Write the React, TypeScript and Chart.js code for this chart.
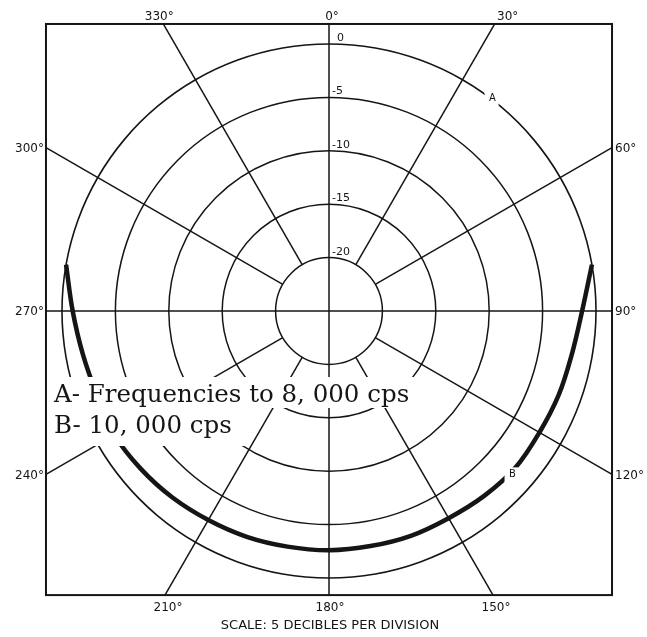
import React, { useEffect, useRef } from "react";
import { Chart, registerables } from "chart.js";

Chart.register(...registerables);

// Bearings (degrees clockwise from 0° at the top) at which the curves are sampled
const bearings = [
  0, 10, 20, 30, 40, 50, 60, 70, 80, 90, 100, 110,
  120, 130, 140, 150, 160, 170, 180, 190, 200, 210, 220, 230,
  240, 250, 260, 270, 280, 290, 300, 310, 320, 330, 340, 350,
];

// Curve A – frequencies to 8,000 cps (relative level, dB)
const curveA = [
  0, 0, 0, 0, 0, 0, 0, 0, 0, 0, 0, 0,
  0, 0, 0, 0, 0, 0, 0, 0, 0, 0, 0, 0,
  0, 0, 0, 0, 0, 0, 0, 0, 0, 0, 0, 0,
];

// Curve B – 10,000 cps (relative level, dB); null where the curve is not drawn
const curveB = [
  null, null, null, null, null, null, null, null, 0, -1.3, -1.9, -2.1,
  -2.25, -2.2, -2.4, -2.6, -2.6, -2.65, -2.6, -2.6, -2.5, -2.4, -2.2, -2.0,
  -1.8, -1.9, -1.6, -1.0, 0, null, null, null, null, null, null, null,
];

// Radial spokes and their labels
const spokeAngles = [0, 30, 60, 90, 120, 150, 180, 210, 240, 270, 300, 330];
const spokeLabels = ["0°", "30°", "60°", "90°", "120°", "150°", "180°", "210°", "240°", "270°", "300°", "330°"];

// Ring values (dB) and their labels
const ringValues = [0, -5, -10, -15, -20];
const ringLabels = ["0", "-5", "-10", "-15", "-20"];

const legendLines = ["A- Frequencies to 8, 000 cps", "B- 10, 000 cps"];
const caption = "SCALE: 5 DECIBLES PER DIVISION";

// curve markers
const markerA = { text: "A", bearing: 37.5, level: 0 };
const markerB = { text: "B", bearing: 132, level: -2.0 };

// ---- styles ----
const INK = "#151515";
const SANS = "'DejaVu Sans', 'Liberation Sans', sans-serif";
const SERIF = "'DejaVu Serif', serif";
const labelNudge: Record<string, number> = { "0°": 3, "30°": 13, "330°": -4, "210°": 3, "180°": 1, "150°": 3 };

const decor = {
  id: "decor",
  beforeDatasetsDraw(chart: any) {
    const s = chart.scales.r;
    const ctx = chart.ctx as CanvasRenderingContext2D;
    const cx = s.xCenter;
    const cy = s.yCenter;
    const R = s.drawingArea;
    const box = { l: cx - R * 1.06, r: cx + R * 1.06, t: cy - R * 1.075, b: cy + R * 1.064 };
    ctx.save();
    ctx.strokeStyle = INK;
    ctx.lineWidth = 1.5;
    spokeAngles.forEach((a) => {
      const idx = a / 10;
      const p = s.getPointPosition(idx, 1);
      const dx = p.x - cx;
      const dy = p.y - cy;
      const ts: number[] = [];
      if (dx > 1e-9) ts.push((box.r - cx) / dx);
      if (dx < -1e-9) ts.push((box.l - cx) / dx);
      if (dy > 1e-9) ts.push((box.b - cy) / dy);
      if (dy < -1e-9) ts.push((box.t - cy) / dy);
      const t = Math.min(...ts);
      const r0 = a % 90 === 0 ? 0 : s.getDistanceFromCenterForValue(-20);
      ctx.beginPath();
      ctx.moveTo(cx + dx * r0, cy + dy * r0);
      ctx.lineTo(cx + dx * t, cy + dy * t);
      ctx.stroke();
    });
    ctx.restore();
  },
  afterDatasetsDraw(chart: any) {
    const s = chart.scales.r;
    const ctx = chart.ctx as CanvasRenderingContext2D;
    const cx = s.xCenter;
    const cy = s.yCenter;
    const R = s.drawingArea;
    const box = { l: cx - R * 1.06, r: cx + R * 1.06, t: cy - R * 1.075, b: cy + R * 1.064 };
    ctx.save();

    // legend masks
    ctx.fillStyle = "#ffffff";
    ctx.fillRect(cx - 281, cy + 66, 372, 31);
    ctx.fillRect(cx - 281, cy + 96, 199, 39);

    // marker masks + text
    [markerA, markerB].forEach((m) => {
      const p = s.getPointPosition(m.bearing / 10, s.getDistanceFromCenterForValue(m.level));
      ctx.fillStyle = "#ffffff";
      ctx.fillRect(p.x - 7, p.y - 8, 14, 16);
      ctx.fillStyle = INK;
      ctx.font = `10px ${SANS}`;
      ctx.textAlign = "center";
      ctx.textBaseline = "middle";
      ctx.fillText(m.text, p.x + 1, p.y - 1);
    });

    // legend text
    ctx.fillStyle = INK;
    ctx.font = `24.5px ${SERIF}`;
    ctx.textAlign = "left";
    ctx.textBaseline = "alphabetic";
    ctx.fillText(legendLines[0], cx - 275, cy + 91);
    ctx.fillText(legendLines[1], cx - 275, cy + 122);

    // ring value labels
    ctx.font = `11px ${SANS}`;
    ctx.textAlign = "left";
    ctx.textBaseline = "alphabetic";
    const minusW = ctx.measureText("-").width;
    ringValues.forEach((v, i) => {
      const y = cy - s.getDistanceFromCenterForValue(v) - 3;
      ctx.fillText(ringLabels[i], cx + 3 + (v === 0 ? minusW + 1 : 0), y);
    });

    // border
    ctx.strokeStyle = INK;
    ctx.lineWidth = 2;
    ctx.strokeRect(box.l, box.t, box.r - box.l, box.b - box.t);

    // spoke labels
    ctx.font = `12px ${SANS}`;
    spokeAngles.forEach((a, i) => {
      const p = s.getPointPosition(a / 10, 1);
      const dx = p.x - cx;
      const dy = p.y - cy;
      const cands: { t: number; side: string }[] = [];
      if (dx > 1e-9) cands.push({ t: (box.r - cx) / dx, side: "r" });
      if (dx < -1e-9) cands.push({ t: (box.l - cx) / dx, side: "l" });
      if (dy > 1e-9) cands.push({ t: (box.b - cy) / dy, side: "b" });
      if (dy < -1e-9) cands.push({ t: (box.t - cy) / dy, side: "t" });
      cands.sort((u, v) => u.t - v.t);
      const { t, side } = cands[0];
      const x = cx + dx * t;
      const y = cy + dy * t;
      const lab = spokeLabels[i];
      const nudge = labelNudge[lab] || 0;
      if (side === "t") {
        ctx.textAlign = "center";
        ctx.textBaseline = "alphabetic";
        ctx.fillText(lab, x + nudge, y - 4);
      } else if (side === "b") {
        ctx.textAlign = "center";
        ctx.textBaseline = "alphabetic";
        ctx.fillText(lab, x + nudge, y + 16);
      } else if (side === "l") {
        ctx.textAlign = "right";
        ctx.textBaseline = "middle";
        ctx.fillText(lab, x - 2, y + 1);
      } else {
        ctx.textAlign = "left";
        ctx.textBaseline = "middle";
        ctx.fillText(lab, x + 3, y + 1);
      }
    });

    // caption
    ctx.font = `13px ${SANS}`;
    ctx.textAlign = "center";
    ctx.textBaseline = "alphabetic";
    ctx.fillText(caption, cx + 1, box.b + 34);

    ctx.restore();
  },
};

export default function App() {
  const ref = useRef<HTMLCanvasElement | null>(null);
  useEffect(() => {
    if (!ref.current) return;
    const chart = new Chart(ref.current, {
      type: "radar",
      data: {
        labels: bearings.map((b) => `${b}°`),
        datasets: [
          {
            label: "A",
            data: curveA,
            borderColor: INK,
            borderWidth: 1.6,
            backgroundColor: "rgba(0,0,0,0)",
            fill: false,
            tension: 0.35,
            pointRadius: 0,
          },
          {
            label: "B",
            data: curveB as any,
            borderColor: INK,
            borderWidth: 4.5,
            backgroundColor: "rgba(0,0,0,0)",
            fill: false,
            tension: 0.35,
            spanGaps: false,
            pointRadius: 0,
          },
        ],
      },
      options: {
        responsive: false,
        animation: false,
        devicePixelRatio: 1,
        layout: { padding: { left: 62, right: 51, top: 44, bottom: 59 } },
        plugins: { legend: { display: false }, tooltip: { enabled: false } },
        scales: {
          r: {
            min: -25,
            max: 0,
            startAngle: 0,
            ticks: { display: false, stepSize: 5 },
            pointLabels: { display: false },
            angleLines: { display: false },
            grid: {
              circular: true,
              color: (c: any) => (c.tick && c.tick.value === 0 ? "rgba(0,0,0,0)" : INK),
              lineWidth: 1.5,
            },
          },
        },
      },
      plugins: [decor],
    });
    return () => chart.destroy();
  }, []);
  return (
    <canvas
      ref={ref}
      width={647}
      height={637}
      style={{ position: "fixed", left: 0, top: 0, width: 647, height: 637, background: "#fff" }}
    />
  );
}
